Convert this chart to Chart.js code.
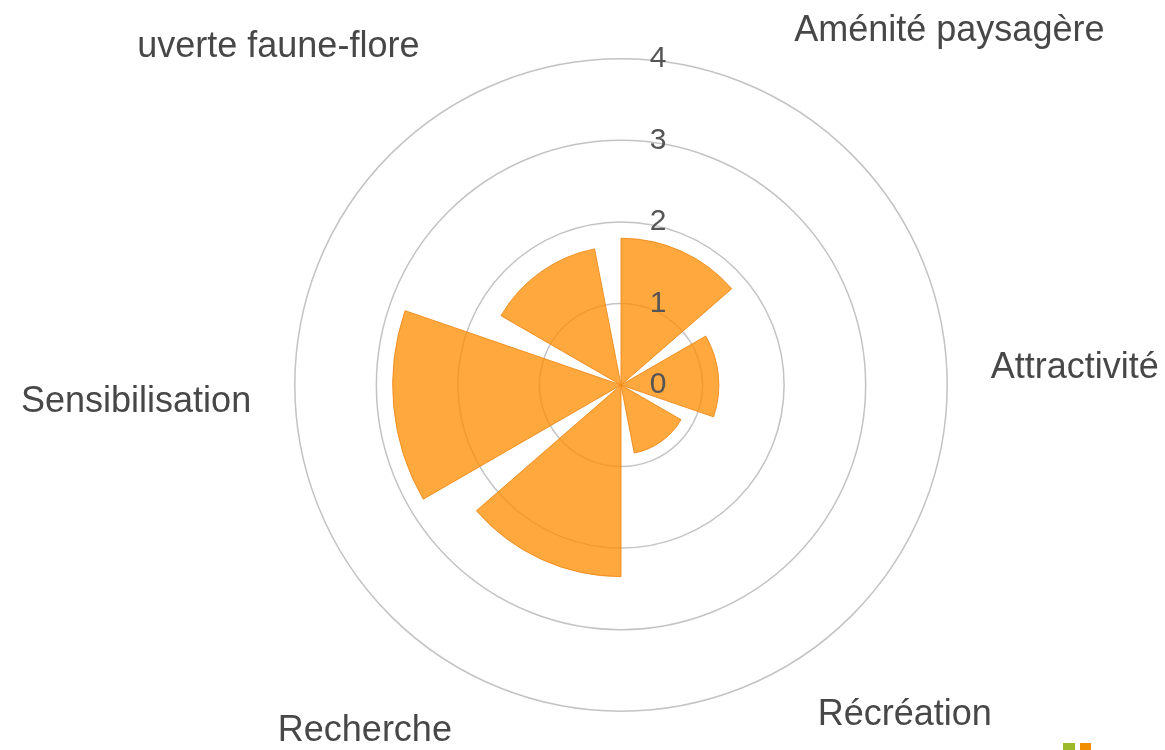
<!DOCTYPE html>
<html lang="fr">
<head>
    <meta charset="UTF-8">
    <title>Services rendus</title>
    <script src="https://cdn.jsdelivr.net/npm/chart.js"></script>
    <style>
        body { margin: 0; padding: 0; background: #fff; overflow: hidden; width: 1165px; height: 750px; position: relative; }
        #wrap {
            position: absolute; left: -49px; top: 5px; width: 1340px; height: 752px;
            clip-path: polygon(185px 0, 100% 0, 100% 100%, 0 100%, 0 90px, 185px 90px);
        }
        .mark { position: absolute; top: 743px; width: 12px; height: 7px; }
    </style>
</head>
<body>
    <div id="wrap"><canvas id="myChart"></canvas></div>
    <div class="mark" style="left:1063px; background:#9cba2c;"></div>
    <div class="mark" style="left:1080px; width:11px; background:#f28c00;"></div>

    <script>
        const categories = ['Aménité paysagère', 'Attractivité', 'Récréation', 'Recherche', 'Sensibilisation', 'Découverte faune-flore'];
        const scores = [1.8, 1.2, 0.85, 2.35, 2.8, 1.7];
        const tickValues = [0, 1, 2, 3, 4];
        const tickLabels = ['0', '1', '2', '3', '4'];

        const fill = 'rgba(255,140,0,0.76)';
        const sliceAngle = 49, gapAngle = 11, leadAngle = 2.5;

        // each slice is followed by an empty wedge, like in the original
        const values = [0], angles = [leadAngle], colors = ['rgba(0,0,0,0)'], borders = [0];
        scores.forEach((s, i) => {
            values.push(s); angles.push(sliceAngle); colors.push(fill); borders.push(1);
            values.push(0);
            angles.push(i < scores.length - 1 ? gapAngle : 360 - leadAngle - 6 * sliceAngle - 5 * gapAngle);
            colors.push('rgba(0,0,0,0)'); borders.push(0);
        });

        const tickText = {
            id: 'tickText',
            afterDatasetsDraw(chart) {
                const s = chart.scales.r;
                const ctx = chart.ctx;
                ctx.save();
                ctx.font = '30px "Liberation Sans", Arial, sans-serif';
                ctx.fillStyle = '#555';
                ctx.textAlign = 'center';
                ctx.textBaseline = 'middle';
                tickLabels.forEach((t, i) => {
                    ctx.fillText(t, s.xCenter + 37, s.yCenter - s.getDistanceFromCenterForValue(tickValues[i]));
                });
                ctx.restore();
            }
        };

        new Chart(document.getElementById('myChart'), {
            type: 'polarArea',
            data: {
                labels: categories,
                datasets: [{
                    data: values,
                    angle: angles,
                    backgroundColor: colors,
                    borderColor: 'rgba(238,138,25,0.9)',
                    borderWidth: borders
                }]
            },
            options: {
                responsive: true,
                maintainAspectRatio: false,
                animation: false,
                layout: { padding: 0 },
                plugins: { legend: { display: false }, tooltip: { enabled: false } },
                scales: {
                    r: {
                        min: 0,
                        max: 4,
                        startAngle: -2.5,
                        ticks: { display: false, stepSize: 1 },
                        grid: { circular: true, color: '#c3c3c6', lineWidth: 1.5 },
                        angleLines: { display: false },
                        pointLabels: {
                            display: true,
                            centerPointLabels: true,
                            color: '#474747',
                            padding: ctx => [49, 44, 40, 40, 44, 49][ctx.index],
                            font: ctx => ({
                                family: '"Liberation Sans", Arial, sans-serif',
                                size: 36,
                                lineHeight: ctx.index % 3 === 1 ? 0.05 : 1.2
                            })
                        }
                    }
                }
            },
            plugins: [tickText]
        });
    </script>
</body>
</html>
